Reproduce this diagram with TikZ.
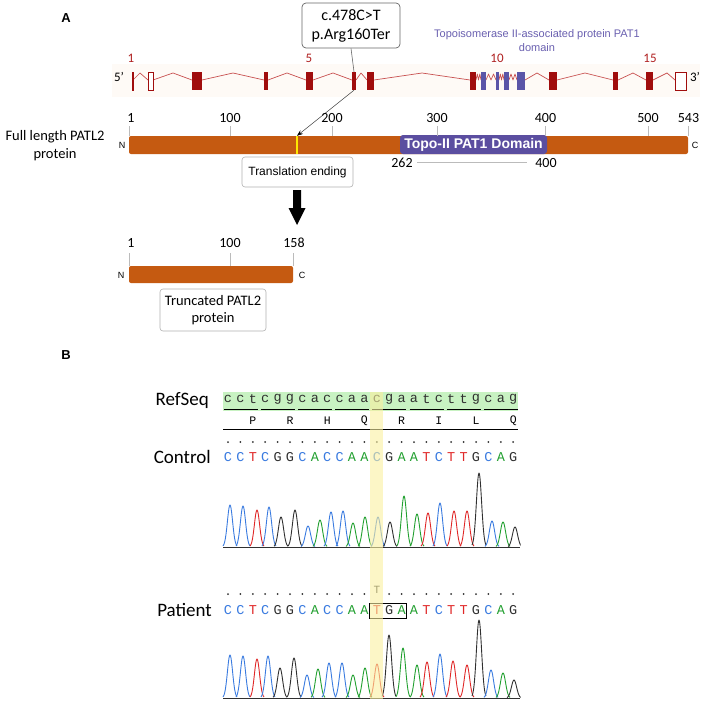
\documentclass[tikz,border=0pt]{standalone}
\usepackage{fontspec}
\setmainfont{Carlito}
\newfontfamily\arialf{Liberation Sans}
\newfontfamily\monof{Liberation Mono}
\usetikzlibrary{arrows.meta}
\definecolor{exred}{HTML}{A00D0D}
\definecolor{intr}{HTML}{C85050}
\definecolor{exblue}{HTML}{5A55A8}
\definecolor{numred}{HTML}{B02020}
\definecolor{topotxt}{HTML}{6A60B0}
\definecolor{prot}{HTML}{C55A11}
\definecolor{domainc}{HTML}{5B4EA0}
\definecolor{tickgray}{HTML}{BBBBBB}
\definecolor{cb}{HTML}{3A7BE0}
\definecolor{ct}{HTML}{E02828}
\definecolor{ca}{HTML}{22A030}
\definecolor{cg}{HTML}{303030}
\definecolor{refgreen}{HTML}{C8F2C2}
\definecolor{hl}{RGB}{250,240,160}
\definecolor{rowbg}{HTML}{FEFAF6}
\begin{document}
\begin{tikzpicture}[x=1pt,y=-1pt,
  tnum/.style={font=\fontsize{14}{14}\selectfont, inner sep=0},
  tk/.style={draw=tickgray, line width=0.7},
  intron/.style={draw=intr, line width=0.7, line join=round},
  exonf/.style={fill=exred},
  exonb/.style={fill=exblue},
  exono/.style={draw=exred, line width=0.6, fill=white},
  enum/.style={font=\fontsize{13}{13}\selectfont, text=numred, inner sep=0},
  termlab/.style={font=\arialf\fontsize{9}{9}\selectfont, inner sep=0},
  gbox/.style={draw=gray!60, line width=0.6, rounded corners=3, inner sep=0, align=center},
  seqch/.style={font=\monof\fontsize{13.5}{13.5}\selectfont, inner sep=0},
  rowlab/.style={font=\fontsize{19}{19}\selectfont, inner sep=0, anchor=east},
  panel/.style={font=\arialf\bfseries\fontsize{13}{13}\selectfont, inner sep=0}
]
\useasboundingbox (0,0) rectangle (708,704);
\fill[white] (0,0) rectangle (708,704);

% ---------------- Panel A ----------------
\node[panel] (pA) at (66,18) {A};

% exon row background
\fill[rowbg] (112,64) rectangle (700,97);

% introns
\draw[intron] (133,80)--(140,73)--(148,80);
\draw[intron] (153,80)--(173,73)--(192,80);
\draw[intron] (202,80)--(233,73)--(264,80);
\draw[intron] (268,80)--(287,73)--(306,80);
\draw[intron] (313,80)--(333,73)--(352,80);
\draw[intron] (356,80)--(361,73)--(367,80);
\draw[intron] (374,80)--(422,73)--(470,80);
\draw[intron] (476,80)--(477.3,74)--(478.5,80)--(479.8,74)--(481,80);
\draw[intron] (486,80)--(488.5,74)--(491,80)--(493.5,74)--(496,80);
\draw[intron] (499,80)--(500.3,74)--(501.5,80)--(502.8,74)--(504,80);
\draw[intron] (509,80)--(511,74)--(513,80)--(515,74)--(517,80);
\draw[intron] (525,80)--(537,73)--(549,80);
\draw[intron] (557,80)--(585,73)--(613,80);
\draw[intron] (618,80)--(633,73)--(646,80);
\draw[intron] (653,80)--(667,73)--(675,80);

% exons
\draw[exono] (131.8,72) rectangle (133,90);
\draw[exono] (148,72) rectangle (153,90);
\fill[exonf] (192,72) rectangle (202,90);
\fill[exonf] (264,72) rectangle (268,90);
\fill[exonf] (306,72) rectangle (313,90);
\node[exonf, inner sep=0, minimum width=4pt, minimum height=18pt] (ex6) at (354,81) {};
\fill[exonf] (367,72) rectangle (374,90);
\fill[exonf] (470,72) rectangle (476,90);
\fill[exonb] (481,72) rectangle (486,90);
\fill[exonb] (496,72) rectangle (499,90);
\fill[exonb] (504,72) rectangle (509,90);
\fill[exonb] (517,72) rectangle (525,90);
\fill[exonf] (549,72) rectangle (557,90);
\fill[exonf] (613,72) rectangle (618,90);
\fill[exonf] (646,72) rectangle (653,90);
\draw[exono] (675,72) rectangle (686,90);

\node[font=\fontsize{13}{13}\selectfont, inner sep=0] (five) at (119,77) {5’};
\node[font=\fontsize{13}{13}\selectfont, inner sep=0] (three) at (695,77) {3’};
\node[enum] (n1) at (131,58) {1};
\node[enum] (n5) at (309,58) {5};
\node[enum] (n10) at (497,58) {10};
\node[enum] (n15) at (650,58) {15};
\node[font=\arialf\fontsize{11}{14}\selectfont, text=topotxt, align=center, inner sep=0] (topo) at (537,40.5) {Topoisomerase II-associated protein PAT1\\domain};

% mutation callout
\node[draw=gray!80!black, line width=0.7, rounded corners=4, minimum width=98pt, minimum height=45pt, align=center, inner sep=0, font=\fontsize{16}{19}\selectfont] (mut) at (351,25.5) {c.478C>T\\p.Arg160Ter};
\draw[gray!80!black, line width=0.6] (mut.south) -- (ex6.north);

% full length protein
\node[font=\fontsize{14.5}{18}\selectfont, align=center, inner sep=0] (fl) at (55,146) {Full length PATL2\\protein};
\fill[prot, rounded corners=2] (129,136) rectangle (688,154);
\node[fill=domainc, rounded corners=3, inner sep=0, minimum width=147pt, minimum height=19pt, text=white, font=\arialf\bfseries\fontsize{14}{14}\selectfont] (dom) at (473.5,144.5) {Topo-II PAT1 Domain};
\node[fill=yellow!90!orange, inner sep=0, minimum width=2.5pt, minimum height=18pt] (stop) at (297,145) {};
\draw[gray!70!black, line width=0.6, -{Stealth[length=6pt,width=4.5pt,black]}] (ex6.south) -- (stop.north);
\node[termlab] (fN) at (122,145) {N};
\node[termlab] (fC) at (695,145) {C};
\foreach \px in {129,230,332,437,545.5,648,688.5}{
  \draw[tk] (\px,126) -- (\px,136);
}
\node[tnum] at (131,118) {1};
\node[tnum] at (230,118) {100};
\node[tnum] at (332,118) {200};
\node[tnum] at (437,118) {300};
\node[tnum] at (545.5,118) {400};
\node[tnum] at (648,118) {500};
\node[tnum] at (688.5,118) {543};
\node[tnum] (d262) at (402,163) {262};
\node[tnum] (d400) at (546,163) {400};
\coordinate (dl1) at (417,162);
\coordinate (dl2) at (527,162);
\draw[tk] (dl1) -- (dl2);

\node[gbox, minimum width=111pt, minimum height=30pt, font=\arialf\fontsize{12}{12}\selectfont] (trans) at (297.5,172) {Translation ending};

% big arrow
\fill[black] (293,190) -- (301,190) -- (301,208) -- (305.5,208) -- (297,225) -- (288.5,208) -- (293,208) -- cycle;

% truncated protein
\fill[prot, rounded corners=2] (129,266) rectangle (293,283);
\draw[tk] (129,253) -- (129,266);
\draw[tk] (230,253) -- (230,266);
\draw[tk] (293,253) -- (293,266);
\node[tnum] at (131,243) {1};
\node[tnum] at (230,243) {100};
\node[tnum] at (294,243) {158};
\node[termlab] (tN) at (121,275) {N};
\node[termlab] (tC) at (302,275) {C};
\node[gbox, minimum width=106pt, minimum height=42pt, font=\fontsize{14.5}{16.5}\selectfont] (trunc) at (213,310) {Truncated PATL2\\protein};

% ---------------- Panel B ----------------
\node[panel] (pB) at (66,355) {B};
\node[rowlab] (ref) at (209,401) {RefSeq};
\node[rowlab] (ctl) at (211,457) {Control};
\node[rowlab] (pat) at (212,610) {Patient};

\fill[refgreen] (223,392) rectangle (518,411);
\foreach \i/\l in {0/c,1/c,2/t,3/c,4/g,5/g,6/c,7/a,8/c,9/c,10/a,11/a,12/c,13/g,14/a,15/a,16/t,17/c,18/t,19/t,20/g,21/c,22/a,23/g}{
  \node[seqch, text=cg] at ({228+12.4*\i},399) {\l};
}
\foreach \k in {0,...,7}{
  \draw[line width=1.6] ({223.5+37.2*\k},409.5) -- ({257.5+37.2*\k},409.5);
}
\foreach \k/\a in {0/P,1/R,2/H,3/Q,4/R,5/I,6/L,7/Q}{
  \node[font=\monof\fontsize{11.5}{11.5}\selectfont, inner sep=0] at ({252.8+37.2*\k},421) {\a};
}
\draw[line width=0.8] (223,429) -- (518,429);
\foreach \i in {0,...,23}{
  \fill[cg] ({228+12.4*\i},442) circle (1);
}
\foreach \i/\l/\col in {0/C/cb,1/C/cb,2/T/ct,3/C/cb,4/G/cg,5/G/cg,6/C/cb,7/A/ca,8/C/cb,9/C/cb,10/A/ca,11/A/ca,12/C/cb,13/G/cg,14/A/ca,15/A/ca,16/T/ct,17/C/cb,18/T/ct,19/T/ct,20/G/cg,21/C/cb,22/A/ca,23/G/cg}{
  \node[seqch, text=\col] at ({228+12.4*\i},457) {\l};
}
% control chromatogram
\begin{scope}
\clip (222,440) rectangle (520.5,550);
\draw[cg, line width=0.6] (223,547) -- (520,547);
\foreach \pc/\ph/\pcol in {230/42/cb,243/41/cb,257/37/ct,269/40/cb,281/30/cg,295/37/cg,308/21/cb,320/27/ca,331/35/cb,343/36/cb,353/24/ca,365/30/ca,378/30/cb,390/25/cg,404/51/ca,417/33/ca,428/34/ct,440/44/cb,454/36/ct,467/36/ct,479/74/cg,492/26/cb,503/25/ca,515/20/cg}{
  \pgfmathsetmacro\lo{\pc-7}
  \pgfmathsetmacro\hi{\pc+7}
  \draw[\pcol, line width=0.9, line join=round] plot[domain=\lo:\hi, samples=29, smooth] (\x,{547-\ph*exp(-((\x-\pc)^2)/13.5)});
}
\end{scope}

% patient
\foreach \i in {0,...,11,13,14,15,16,17,18,19,20,21,22,23}{
  \fill[cg] ({228+12.4*\i},594) circle (1);
}
\node[font=\monof\fontsize{11}{11}\selectfont, inner sep=0, text=cg] (tsub) at (376.8,590) {T};
\foreach \i/\l/\col in {0/C/cb,1/C/cb,2/T/ct,3/C/cb,4/G/cg,5/G/cg,6/C/cb,7/A/ca,8/C/cb,9/C/cb,10/A/ca,11/A/ca,12/T/ct,13/G/cg,14/A/ca,15/A/ca,16/T/ct,17/C/cb,18/T/ct,19/T/ct,20/G/cg,21/C/cb,22/A/ca,23/G/cg}{
  \node[seqch, text=\col] at ({228+12.4*\i},610) {\l};
}
\draw[line width=0.8] (369.5,603) rectangle (406,618);
\begin{scope}
\clip (222,600) rectangle (520.5,701);
\draw[cg, line width=0.6] (223,698) -- (520,698);
\foreach \pc/\ph/\pcol in {230/43/cb,243/42/cb,257/39/ct,268/42/cb,280/30/cg,294/40/cg,307/23/cb,318/29/ca,329/35/cb,342/35/cb,353/23/ca,365/30/ca,377/34/ct,389/63/cg,403/50/ca,417/33/ca,427/36/ct,440/44/cb,453/37/ct,467/33/ct,479/78/cg,491/28/cb,503/25/ca,514/18/cg}{
  \pgfmathsetmacro\lo{\pc-7}
  \pgfmathsetmacro\hi{\pc+7}
  \draw[\pcol, line width=0.9, line join=round] plot[domain=\lo:\hi, samples=29, smooth] (\x,{698-\ph*exp(-((\x-\pc)^2)/13.5)});
}
\end{scope}

% highlight column
\fill[hl, fill opacity=0.6] (370,392) rectangle (383,699);
\end{tikzpicture}
\end{document}
